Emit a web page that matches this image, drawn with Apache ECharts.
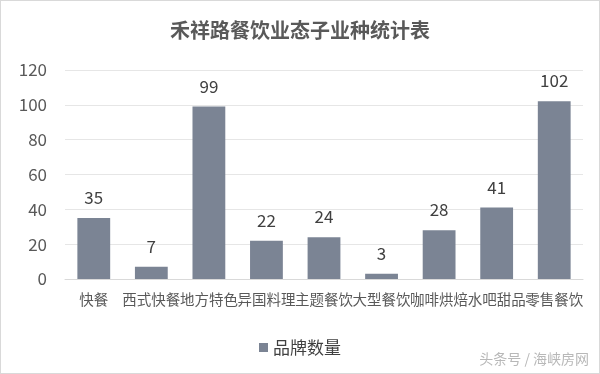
<!DOCTYPE html>
<html><head><meta charset="utf-8">
<script src="https://cdn.jsdelivr.net/npm/echarts@6/dist/echarts.min.js"></script>
<style>html,body{margin:0;padding:0;background:#fff}#c{width:598px;height:372px;border:1px solid #d9d9d9}</style>
</head><body><div id="c"></div>
<script>
var categories = ['快餐','西式快餐','地方特色','异国料理','主题餐饮','大型餐饮','咖啡烘焙','水吧甜品','零售餐饮'];
var values = [35, 7, 99, 22, 24, 3, 28, 41, 102];
var seriesName = '品牌数量';
var chart = echarts.init(document.getElementById('c'));
chart.setOption({
  animation: false,
  textStyle: {fontFamily: '"Noto Sans CJK SC", sans-serif'},
  title: {text: '禾祥路餐饮业态子业种统计表', left: 'center', top: 14,
    textStyle: {fontSize: 20, fontWeight: 'bold', color: '#595959', fontFamily: '"Noto Sans CJK SC", sans-serif'}},
  grid: {left: 64, right: 16, top: 69, bottom: 94},
  legend: {bottom: 12, left: 'center', itemWidth: 9, itemHeight: 9, icon: 'rect', itemGap: 5,
    textStyle: {fontSize: 17, color: '#404040'}, data: [seriesName]},
  graphic: [{type: 'text', right: 10, bottom: 7, style: {text: '头条号 / 海峡房网', fontSize: 14, fill: '#b8b8b8', fontFamily: '"Noto Sans CJK SC", sans-serif'}}],
  xAxis: {type: 'category', data: categories,
    axisLine: {lineStyle: {color: '#d9d9d9'}}, axisTick: {show: false},
    axisLabel: {interval: 0, fontSize: 14.5, color: '#595959', margin: 13}},
  yAxis: {type: 'value', min: 0, max: 120, interval: 20,
    axisLine: {show: false}, axisTick: {show: false},
    splitLine: {lineStyle: {color: '#e6e6e6'}},
    axisLabel: {fontSize: 17, color: '#595959', margin: 18}},
  series: [{name: seriesName, type: 'bar', data: values, barWidth: '57%',
    itemStyle: {color: '#7b8494'},
    label: {show: true, position: 'top', fontSize: 17, color: '#404040', distance: 12}}]
});
</script></body></html>
